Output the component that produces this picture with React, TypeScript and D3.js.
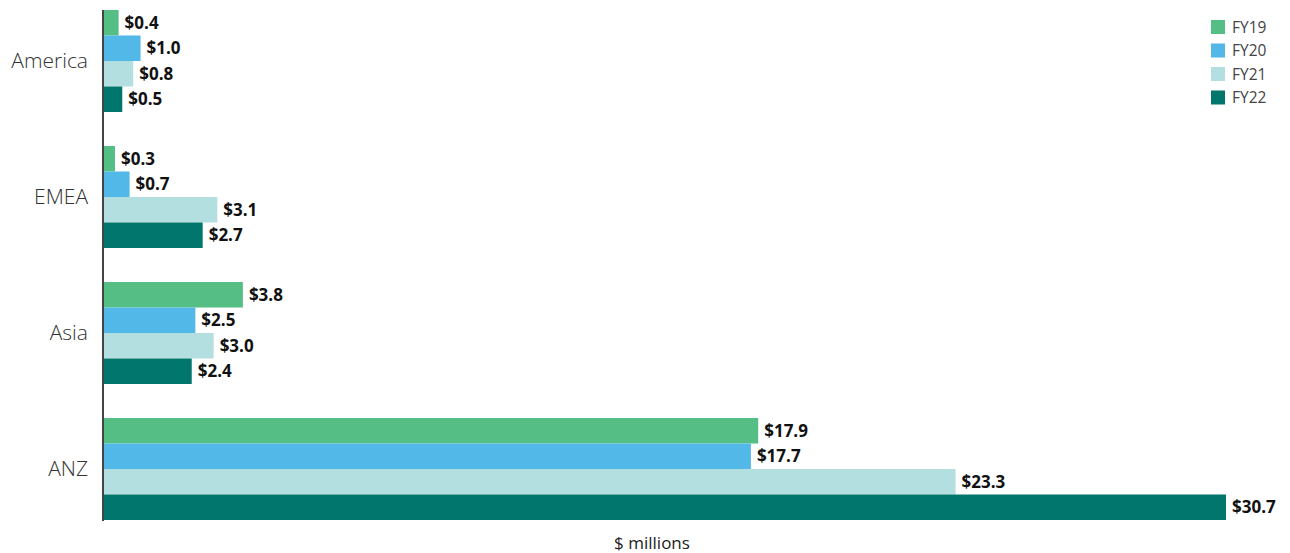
import React from "react";
import * as d3 from "d3";

const regions = ["America", "EMEA", "Asia", "ANZ"];
const seriesNames = ["FY19", "FY20", "FY21", "FY22"];
const fy19 = [0.4, 0.3, 3.8, 17.9];
const fy20 = [1.0, 0.7, 2.5, 17.7];
const fy21 = [0.8, 3.1, 3.0, 23.3];
const fy22 = [0.5, 2.7, 2.4, 30.7];
const seriesValues = [fy19, fy20, fy21, fy22];
const colors = ["#55BE84", "#52B8E8", "#B3DFE0", "#00766C"];
const xLabel = "$ millions";

export default function App() {
  const W = 1290, H = 553;
  const y = d3.scaleBand<string>().domain(regions).range([10, 520]).paddingInner(0.25).paddingOuter(0);
  const yi = d3.scaleBand<string>().domain(seriesNames).range([0, y.bandwidth()]);
  const x = d3.scaleLinear().domain([0, 30.7]).range([104, 1226]);
  const font = "'Open Sans', sans-serif";
  return (
    <svg width={W} height={H} style={{ position: "absolute", left: 0, top: 0 }}>
      <rect width={W} height={H} fill="#fff" />
      {regions.map((r, ri) => (
        <g key={r}>
          {seriesNames.map((s, si) => {
            const v = seriesValues[si][ri];
            const yy = (y(r) as number) + (yi(s) as number);
            return (
              <g key={s}>
                <rect x={x(0)} y={yy} width={x(v) - x(0)} height={yi.bandwidth()} fill={colors[si]} />
                <text x={x(v) + 6} y={yy + yi.bandwidth() / 2} dy="0.35em" fontFamily={font} fontWeight={700} fontSize={17} fill="#111">
                  {"$" + v.toFixed(1)}
                </text>
              </g>
            );
          })}
          <text x={88} y={(y(r) as number) + y.bandwidth() / 2} dy="0.35em" textAnchor="end" fontFamily={font} fontWeight={300} fontSize={21} fill="#333">
            {r}
          </text>
        </g>
      ))}
      <line x1={103} x2={103} y1={10} y2={521} stroke="#444" strokeWidth={2} />
      <text x={652} y={543} dy="0.35em" textAnchor="middle" fontFamily={font} fontSize={17} fill="#222">{xLabel}</text>
      {seriesNames.map((s, i) => (
        <g key={s} transform={`translate(1211, ${20 + i * 23.5})`}>
          <rect width={14} height={14} fill={colors[i]} />
          <text x={21} y={7.5} dy="0.35em" fontFamily={font} fontSize={15.5} fill="#444">{s}</text>
        </g>
      ))}
    </svg>
  );
}
